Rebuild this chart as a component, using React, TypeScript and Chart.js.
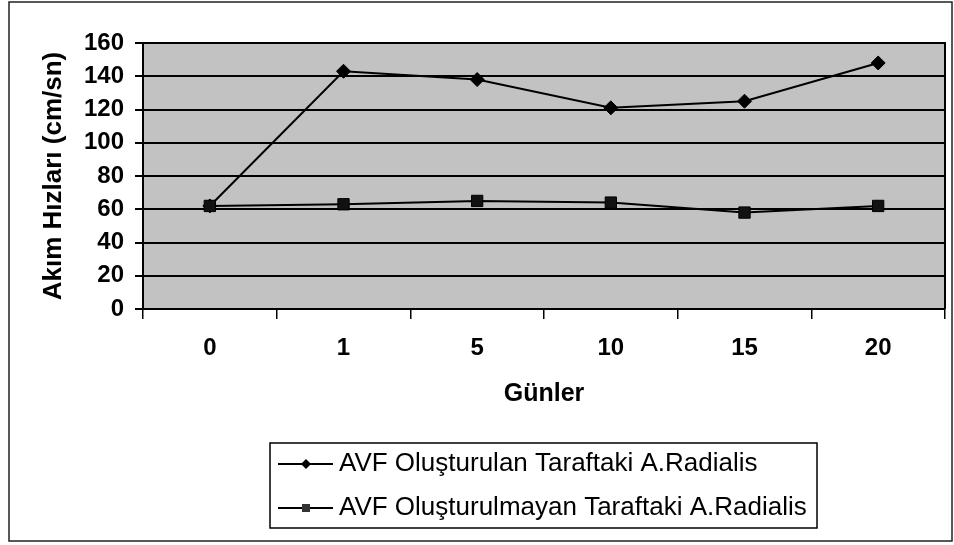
import React, { useEffect, useRef } from "react";
import { Chart, registerables } from "chart.js";

Chart.register(...registerables);

const categories = ["0", "1", "5", "10", "15", "20"];
const avfSide = [62, 143, 138, 121, 125, 148];
const nonAvfSide = [62, 63, 65, 64, 58, 62];
const seriesLabels = [
  "AVF Oluşturulan Taraftaki A.Radialis",
  "AVF Oluşturulmayan Taraftaki A.Radialis",
];
const yTitle = "Akım Hızları (cm/sn)";
const xTitle = "Günler";
const yMin = 0;
const yMax = 160;
const yStep = 20;

const FONT = "'Liberation Sans', Arial, sans-serif";
const PLOT_BG = "#c2c2c2";

const plotBackground = {
  id: "plotBackground",
  beforeDraw(chart: any) {
    const { ctx, chartArea } = chart;
    ctx.save();
    ctx.fillStyle = PLOT_BG;
    ctx.fillRect(chartArea.left, chartArea.top, chartArea.right - chartArea.left, chartArea.bottom - chartArea.top);
    ctx.restore();
  },
  beforeDatasetsDraw(chart: any) {
    const { ctx, chartArea } = chart;
    ctx.save();
    ctx.strokeStyle = "#000";
    ctx.lineWidth = 2;
    ctx.beginPath();
    ctx.moveTo(chartArea.left, chartArea.top);
    ctx.lineTo(chartArea.right, chartArea.top);
    ctx.lineTo(chartArea.right, chartArea.bottom);
    ctx.stroke();
    ctx.restore();
  },
};

const frameAndLegend = {
  id: "frameAndLegend",
  afterDraw(chart: any) {
    const { ctx, width, height } = chart;
    ctx.save();
    // outer frame
    ctx.strokeStyle = "#222";
    ctx.lineWidth = 1.5;
    ctx.strokeRect(9, 2, width - 11, height - 6);

    // legend box
    const bx = 270, by = 443, bw = 547, bh = 85;
    ctx.fillStyle = "#fff";
    ctx.fillRect(bx, by, bw, bh);
    ctx.strokeStyle = "#000";
    ctx.lineWidth = 1.5;
    ctx.strokeRect(bx, by, bw, bh);

    const rows = [464, 508];
    chart.data.datasets.forEach((ds: any, i: number) => {
      const y = rows[i];
      ctx.strokeStyle = "#000";
      ctx.lineWidth = 2;
      ctx.beginPath();
      ctx.moveTo(278, y);
      ctx.lineTo(333, y);
      ctx.stroke();
      ctx.fillStyle = i === 0 ? "#000" : "#333";
      ctx.beginPath();
      if (ds.pointStyle === "rectRot") {
        const r = 5;
        ctx.moveTo(306, y - r);
        ctx.lineTo(306 + r, y);
        ctx.lineTo(306, y + r);
        ctx.lineTo(306 - r, y);
        ctx.closePath();
      } else {
        ctx.rect(302, y - 4, 8, 8);
      }
      ctx.fill();
      ctx.fillStyle = "#000";
      ctx.font = `26px ${FONT}`;
      ctx.textBaseline = "middle";
      ctx.textAlign = "left";
      ctx.fillText(ds.label, 339, y);
    });
    ctx.restore();
  },
};

export default function App() {
  const canvasRef = useRef<HTMLCanvasElement | null>(null);

  useEffect(() => {
    if (!canvasRef.current) return;
    const chart = new Chart(canvasRef.current, {
      type: "line",
      data: {
        labels: categories,
        datasets: [
          {
            label: seriesLabels[0],
            data: avfSide,
            borderColor: "#000",
            backgroundColor: "#000",
            borderWidth: 2,
            pointStyle: "rectRot",
            pointRadius: 7,
            pointBorderWidth: 1,
            pointBorderColor: "#000",
            pointBackgroundColor: "#000",
            tension: 0,
            order: 1,
          },
          {
            label: seriesLabels[1],
            data: nonAvfSide,
            borderColor: "#000",
            backgroundColor: "#000",
            borderWidth: 2,
            pointStyle: "rect",
            pointRadius: 8,
            pointBorderWidth: 1,
            pointBorderColor: "#000",
            pointBackgroundColor: "#111",
            tension: 0,
            order: 0,
          },
        ],
      },
      options: {
        animation: false,
        responsive: false,
        maintainAspectRatio: false,
        layout: { padding: { left: 38, top: 43, right: 9, bottom: 136 } },
        plugins: {
          legend: { display: false },
          tooltip: { enabled: false },
          title: { display: false },
        },
        scales: {
          x: {
            type: "category",
            offset: true,
            grid: {
              display: true,
              drawOnChartArea: false,
              drawTicks: true,
              tickLength: 10,
              offset: true,
              color: "#000",
              lineWidth: 1.5,
            },
            border: { display: true, color: "#000", width: 2 },
            ticks: {
              color: "#000",
              font: { family: FONT, size: 24, weight: "bold" },
              padding: 15,
              maxRotation: 0,
            },
            title: {
              display: true,
              text: xTitle,
              color: "#000",
              font: { family: FONT, size: 25, weight: "bold" },
              padding: 0,
            },
            afterFit(scale: any) {
              scale.height = 100;
            },
          },
          y: {
            min: yMin,
            max: yMax,
            ticks: {
              stepSize: yStep,
              color: "#000",
              font: { family: FONT, size: 24, weight: "bold" },
              padding: 11,
            },
            grid: {
              color: "#000",
              lineWidth: 2,
              drawTicks: true,
              tickLength: 8,
            },
            border: { display: true, color: "#000", width: 2 },
            title: {
              display: true,
              text: yTitle,
              color: "#000",
              font: { family: FONT, size: 26, weight: "bold" },
              padding: 0,
            },
            afterFit(scale: any) {
              scale.width = 105;
            },
          },
        },
      },
      plugins: [plotBackground, frameAndLegend],
    });
    return () => chart.destroy();
  }, []);

  return (
    <div style={{ position: "absolute", left: 0, top: 0, width: 954, height: 545, background: "#fff" }}>
      <canvas ref={canvasRef} width={954} height={545} style={{ display: "block", width: 954, height: 545 }} />
    </div>
  );
}
